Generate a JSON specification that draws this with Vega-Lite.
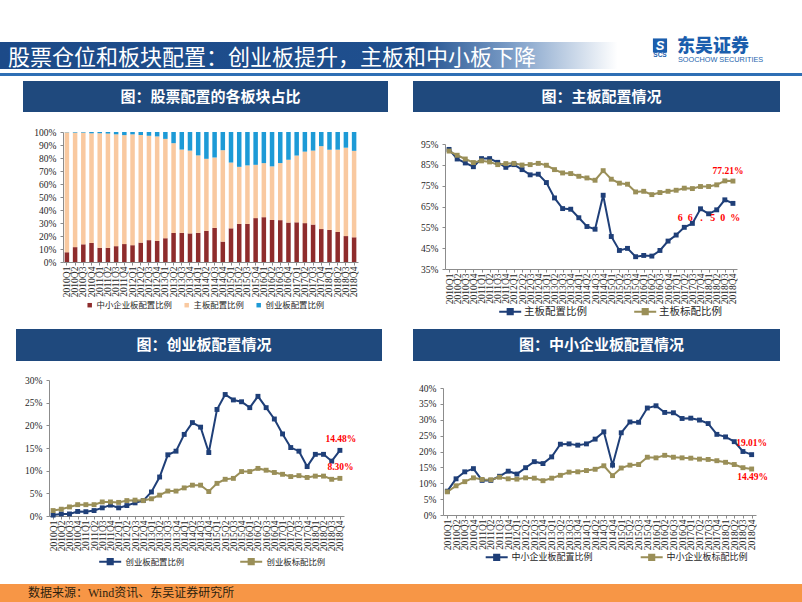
{
"$schema":"https://vega.github.io/schema/vega-lite/v6.json",
"padding":0,
"background":"#ffffff",
"spacing":0,
"resolve":{"scale":{"color":"independent","x":"independent","y":"independent"},"legend":{"color":"independent"}},
"config":{
 "view":{"stroke":null},
 "font":"Liberation Serif",
 "axis":{"grid":false,"title":null,"labelFont":"Liberation Serif","labelFontSize":9.5,"labelColor":"#262626","domainColor":"#8C8C8C","tickColor":"#8C8C8C","tickSize":3,"labelPadding":4,"labelOverlap":false},
 "axisX":{"labelAngle":-90,"labelOverlap":false,"labelPadding":1,"tickSize":3},
 "axisY":{"labelOverlap":false},
 "legend":{"title":null,"orient":"none","direction":"horizontal","labelFont":"Noto Sans CJK SC","labelColor":"#262626","padding":0}
},
"datasets":{
 "d":[
  {"q":"2010Q1","main":92.4,"mainStd":91.6,"gem":0.2,"gemStd":1.2,"sme":7.5,"smeStd":7.3},
  {"q":"2010Q2","main":87.8,"mainStd":89.6,"gem":0.45,"gemStd":1.5,"sme":11.4,"smeStd":9.2},
  {"q":"2010Q3","main":85.9,"mainStd":87.8,"gem":0.45,"gemStd":2.0,"sme":13.6,"smeStd":10.5},
  {"q":"2010Q4","main":84.1,"mainStd":86.1,"gem":1.0,"gemStd":2.5,"sme":14.6,"smeStd":11.7},
  {"q":"2011Q1","main":88.0,"mainStd":86.9,"gem":0.95,"gemStd":2.5,"sme":10.9,"smeStd":11.2},
  {"q":"2011Q2","main":88.0,"mainStd":86.4,"gem":1.2,"gemStd":2.5,"sme":10.9,"smeStd":11.1},
  {"q":"2011Q3","main":86.2,"mainStd":85.1,"gem":1.8,"gemStd":3.1,"sme":12.2,"smeStd":11.9},
  {"q":"2011Q4","main":83.8,"mainStd":85.6,"gem":2.4,"gemStd":3.1,"sme":13.8,"smeStd":11.4},
  {"q":"2012Q1","main":85.1,"mainStd":85.7,"gem":1.8,"gemStd":3.0,"sme":12.9,"smeStd":11.3},
  {"q":"2012Q2","main":82.7,"mainStd":84.9,"gem":2.3,"gemStd":3.4,"sme":14.9,"smeStd":11.7},
  {"q":"2012Q3","main":80.2,"mainStd":85.1,"gem":2.9,"gemStd":3.5,"sme":16.8,"smeStd":11.6},
  {"q":"2012Q4","main":80.5,"mainStd":85.7,"gem":3.4,"gemStd":3.4,"sme":16.2,"smeStd":10.8},
  {"q":"2013Q1","main":76.5,"mainStd":84.8,"gem":5.3,"gemStd":3.8,"sme":18.3,"smeStd":11.6},
  {"q":"2013Q2","main":69.1,"mainStd":82.7,"gem":8.6,"gemStd":4.6,"sme":22.3,"smeStd":12.5},
  {"q":"2013Q3","main":64.0,"mainStd":81.1,"gem":13.5,"gemStd":5.5,"sme":22.4,"smeStd":13.5},
  {"q":"2013Q4","main":63.7,"mainStd":80.8,"gem":14.3,"gemStd":5.5,"sme":22.0,"smeStd":13.6},
  {"q":"2014Q1","main":59.6,"mainStd":79.5,"gem":18.0,"gemStd":6.2,"sme":22.4,"smeStd":14.0},
  {"q":"2014Q2","main":55.4,"mainStd":78.7,"gem":20.6,"gemStd":6.8,"sme":23.9,"smeStd":14.4},
  {"q":"2014Q3","main":54.1,"mainStd":77.6,"gem":19.6,"gemStd":6.8,"sme":26.2,"smeStd":15.5},
  {"q":"2014Q4","main":70.4,"mainStd":82.2,"gem":14.0,"gemStd":5.4,"sme":15.7,"smeStd":12.4},
  {"q":"2015Q1","main":50.6,"mainStd":78.1,"gem":23.5,"gemStd":7.2,"sme":25.9,"smeStd":14.8},
  {"q":"2015Q2","main":43.9,"mainStd":76.2,"gem":26.8,"gemStd":8.1,"sme":29.3,"smeStd":15.7},
  {"q":"2015Q3","main":44.9,"mainStd":75.7,"gem":25.6,"gemStd":8.3,"sme":29.2,"smeStd":15.9},
  {"q":"2015Q4","main":40.9,"mainStd":72.0,"gem":25.2,"gemStd":9.8,"sme":33.7,"smeStd":18.2},
  {"q":"2016Q1","main":41.5,"mainStd":72.3,"gem":23.9,"gemStd":9.8,"sme":34.4,"smeStd":18.0},
  {"q":"2016Q2","main":41.2,"mainStd":70.7,"gem":26.4,"gemStd":10.5,"sme":32.3,"smeStd":18.8},
  {"q":"2016Q3","main":43.9,"mainStd":71.7,"gem":23.9,"gemStd":10.1,"sme":32.2,"smeStd":18.2},
  {"q":"2016Q4","main":48.4,"mainStd":72.3,"gem":21.4,"gemStd":9.6,"sme":30.4,"smeStd":18.0},
  {"q":"2017Q1","main":51.3,"mainStd":72.8,"gem":18.1,"gemStd":9.2,"sme":30.5,"smeStd":17.9},
  {"q":"2017Q2","main":55.0,"mainStd":73.8,"gem":15.1,"gemStd":8.7,"sme":29.9,"smeStd":17.6},
  {"q":"2017Q3","main":56.9,"mainStd":73.6,"gem":14.3,"gemStd":8.9,"sme":28.8,"smeStd":17.5},
  {"q":"2017Q4","main":63.9,"mainStd":74.6,"gem":10.9,"gemStd":8.5,"sme":25.4,"smeStd":17.1},
  {"q":"2018Q1","main":61.5,"mainStd":74.6,"gem":13.6,"gemStd":8.8,"sme":24.6,"smeStd":16.6},
  {"q":"2018Q2","main":63.4,"mainStd":75.4,"gem":13.6,"gemStd":8.8,"sme":23.1,"smeStd":15.9},
  {"q":"2018Q3","main":68.2,"mainStd":77.3,"gem":12.1,"gemStd":8.1,"sme":20.0,"smeStd":14.9},
  {"q":"2018Q4","main":66.5,"mainStd":77.21,"gem":14.48,"gemStd":8.30,"sme":19.01,"smeStd":14.49}
 ],
 "ann":[
  {"id":"c2a","q":"2018Q4","v":77.21,"t":"77.21%"},
  {"id":"c2b","q":"2018Q4","v":66.5,"t":"6\u00a0\u00a06\u00a0\u00a0\u00a0.\u00a0\u00a0\u00a05\u00a0\u00a00\u00a0\u00a0%"},
  {"id":"c3a","q":"2018Q4","v":14.48,"t":"14.48%"},
  {"id":"c3b","q":"2018Q4","v":8.3,"t":"8.30%"},
  {"id":"c4a","q":"2018Q4","v":19.01,"t":"19.01%"},
  {"id":"c4b","q":"2018Q4","v":14.49,"t":"14.49%"}
 ]
},
"vconcat":[
 {"width":802,"height":37,"data":{"values":[{}]},"mark":{"type":"rect","opacity":0},"encoding":{}},
 {"width":802,"height":27,
  "data":{"values":[{"title":"股票仓位和板块配置：创业板提升，主板和中小板下降","brand":"东吴证券","en":"SOOCHOW SECURITIES","abbr":"SCS","s":"S"}]},
  "layer":[
   {"mark":{"type":"rect","color":{"gradient":"linear","x1":0,"x2":1,"y1":0,"y2":0,"stops":[{"offset":0,"color":"#1C4A88"},{"offset":0.52,"color":"#1F4F8E"},{"offset":0.64,"color":"#7E9FC8"},{"offset":0.77,"color":"#FFFFFF"},{"offset":1,"color":"#FFFFFF"}]}},"encoding":{}},
   {"mark":{"type":"text","align":"left","baseline":"middle","dx":-393,"dy":2,"font":"Noto Sans CJK SC","fontSize":22,"color":"#FFFFFF"},"encoding":{"text":{"field":"title"}}},
   {"mark":{"type":"point","shape":"square","filled":true,"size":200,"opacity":1,"color":"#1B5EAD","xOffset":259,"yOffset":-10},"encoding":{}},
   {"mark":{"type":"text","align":"center","baseline":"middle","dx":259,"dy":-10,"font":"Liberation Sans","fontStyle":"italic","fontWeight":"bold","fontSize":13,"color":"#FFFFFF"},"encoding":{"text":{"field":"s"}}},
   {"mark":{"type":"text","align":"center","baseline":"middle","dx":259,"dy":-0.5,"font":"Liberation Sans","fontWeight":"bold","fontSize":6.5,"color":"#1B5EAD"},"encoding":{"text":{"field":"abbr"}}},
   {"mark":{"type":"text","align":"left","baseline":"middle","dx":276,"dy":-9,"font":"Noto Sans CJK SC","fontWeight":900,"fontSize":18,"color":"#1B5EAD"},"encoding":{"text":{"field":"brand"}}},
   {"mark":{"type":"text","align":"left","baseline":"middle","dx":277,"dy":4.5,"font":"Liberation Sans","fontSize":7.3,"color":"#2565AE"},"encoding":{"text":{"field":"en"}}}
  ]
 },
 {"width":802,"height":4,"data":{"values":[{}]},"mark":{"type":"rect","opacity":0},"encoding":{}},
 {"width":802,"height":3,"data":{"values":[{}]},"mark":{"type":"rect","color":"#2F6FB5"},"encoding":{}},
 {"width":802,"height":5,"data":{"values":[{}]},"mark":{"type":"rect","opacity":0},"encoding":{}},
 {"spacing":0,"bounds":"flush","hconcat":[
  {"width":23,"height":31,"data":{"values":[{}]},"mark":{"type":"rect","opacity":0},"encoding":{}},
  {"width":365,"height":31,"data":{"values":[{"t":"图：股票配置的各板块占比"}]},"layer":[
   {"mark":{"type":"rect","color":"#1F497D"},"encoding":{}},
   {"mark":{"type":"text","dx":5,"font":"Noto Sans CJK SC","fontWeight":"bold","fontSize":15,"color":"#FFFFFF"},"encoding":{"text":{"field":"t"}}}]},
  {"width":25,"height":31,"data":{"values":[{}]},"mark":{"type":"rect","opacity":0},"encoding":{}},
  {"width":367,"height":31,"data":{"values":[{"t":"图：主板配置情况"}]},"layer":[
   {"mark":{"type":"rect","color":"#1F497D"},"encoding":{}},
   {"mark":{"type":"text","dx":5,"font":"Noto Sans CJK SC","fontWeight":"bold","fontSize":15,"color":"#FFFFFF"},"encoding":{"text":{"field":"t"}}}]}
 ]},
 {"spacing":0,"bounds":"flush",
  "resolve":{"scale":{"color":"independent","x":"independent","y":"independent"},"legend":{"color":"independent"}},
  "hconcat":[
  {"width":63,"height":217,"data":{"values":[{}]},"mark":{"type":"rect","opacity":0},"encoding":{}},
  {"width":295,"height":150,
   "data":{"name":"d"},
   "transform":[{"fold":["sme","main","gem"],"as":["k","v"]}],
   "mark":{"type":"bar"},
   "encoding":{
    "x":{"field":"q","type":"ordinal","scale":{"paddingInner":0.45,"paddingOuter":0.2},"axis":{"labelFontSize":9.5}},
    "y":{"field":"v","type":"quantitative","stack":"normalize","scale":{"domain":[0,1],"range":[150,20]},"axis":{"format":".0%","values":[0,0.1,0.2,0.3,0.4,0.5,0.6,0.7,0.8,0.9,1],"labelOverlap":false}},
    "color":{"field":"k","type":"nominal","scale":{"domain":["sme","main","gem"],"range":["#8E2C2C","#F9C9A0","#1D9AD6"]},
     "legend":{"legendX":22.5,"legendY":188.8,"symbolType":"square","symbolSize":20,"symbolStrokeWidth":0,"labelFontSize":8.4,"labelOffset":2.7,"columnPadding":10,
      "labelExpr":"datum.label == 'sme' ? '中小企业板配置比例' : datum.label == 'main' ? '主板配置比例' : '创业板配置比例'"}},
    "order":{"field":"k","sort":"descending"}
   }
  },
  {"width":87,"height":217,"data":{"values":[{}]},"mark":{"type":"rect","opacity":0},"encoding":{}},
  {"width":292,"height":157,
   "layer":[
    {"data":{"name":"d"},"transform":[{"fold":["main","mainStd"],"as":["k","v"]}],
     "mark":{"type":"line","strokeWidth":2},
     "encoding":{
      "x":{"field":"q","type":"ordinal","scale":{"type":"point","padding":0.5}},
      "y":{"field":"v","type":"quantitative","scale":{"domain":[35,95],"range":[157,32],"nice":false,"zero":false},"axis":{"values":[35,45,55,65,75,85,95],"labelExpr":"datum.value + '%'","labelOverlap":false,"tickCount":7}},
      "color":{"field":"k","type":"nominal","scale":{"domain":["main","mainStd"],"range":["#1F3F78","#9A8F58"]},
       "legend":{"legendX":56.7,"legendY":190.7,"symbolType":"M-1.5,0H1.5M-0.35,-0.35H0.35V0.35H-0.35Z","symbolSize":215,"symbolStrokeWidth":2,"labelFontSize":10.5,"labelOffset":5.3,"columnPadding":42,
        "labelExpr":"datum.label == 'main' ? '主板配置比例' : '主板标配比例'"}}
     }},
    {"data":{"name":"d"},"transform":[{"fold":["main","mainStd"],"as":["k","v"]}],
     "mark":{"type":"point","shape":"square","filled":true,"size":24,"opacity":1},
     "encoding":{
      "x":{"field":"q","type":"ordinal"},
      "y":{"field":"v","type":"quantitative","axis":{"values":[35,45,55,65,75,85,95],"labelExpr":"datum.value + '%'","labelOverlap":false,"tickCount":7}},
      "color":{"field":"k","type":"nominal",
       "legend":{"legendX":56.7,"legendY":190.7,"symbolType":"M-1.5,0H1.5M-0.35,-0.35H0.35V0.35H-0.35Z","symbolSize":215,"symbolStrokeWidth":2,"labelFontSize":10.5,"labelOffset":5.3,"columnPadding":42,
        "labelExpr":"datum.label == 'main' ? '主板配置比例' : '主板标配比例'"}}
     }},
    {"data":{"name":"ann"},"transform":[{"filter":"datum.id == 'c2a'"}],
     "mark":{"type":"text","dx":-5,"dy":-10,"font":"Liberation Serif","fontWeight":"bold","fontSize":9.5,"color":"#FF0000"},
     "encoding":{"x":{"field":"q","type":"ordinal"},"y":{"field":"v","type":"quantitative","axis":{"values":[35,45,55,65,75,85,95],"labelExpr":"datum.value + '%'","labelOverlap":false,"tickCount":7}},"text":{"field":"t"}}},
    {"data":{"name":"ann"},"transform":[{"filter":"datum.id == 'c2b'"}],
     "mark":{"type":"text","dx":-24,"dy":14.6,"font":"Liberation Serif","fontWeight":"bold","fontSize":10,"color":"#FF0000"},
     "encoding":{"x":{"field":"q","type":"ordinal"},"y":{"field":"v","type":"quantitative","axis":{"values":[35,45,55,65,75,85,95],"labelExpr":"datum.value + '%'","labelOverlap":false,"tickCount":7}},"text":{"field":"t"}}}
   ]
  }
 ]},
 {"spacing":0,"bounds":"flush","hconcat":[
  {"width":16,"height":32,"data":{"values":[{}]},"mark":{"type":"rect","opacity":0},"encoding":{}},
  {"width":366,"height":32,"data":{"values":[{"t":"图：创业板配置情况"}]},"layer":[
   {"mark":{"type":"rect","color":"#1F497D"},"encoding":{}},
   {"mark":{"type":"text","dx":5,"font":"Noto Sans CJK SC","fontWeight":"bold","fontSize":15,"color":"#FFFFFF"},"encoding":{"text":{"field":"t"}}}]},
  {"width":31,"height":32,"data":{"values":[{}]},"mark":{"type":"rect","opacity":0},"encoding":{}},
  {"width":367,"height":32,"data":{"values":[{"t":"图：中小企业板配置情况"}]},"layer":[
   {"mark":{"type":"rect","color":"#1F497D"},"encoding":{}},
   {"mark":{"type":"text","dx":5,"font":"Noto Sans CJK SC","fontWeight":"bold","fontSize":15,"color":"#FFFFFF"},"encoding":{"text":{"field":"t"}}}]}
 ]},
 {"spacing":0,"bounds":"flush",
  "resolve":{"scale":{"color":"independent","x":"independent","y":"independent"},"legend":{"color":"independent"}},
  "hconcat":[
  {"width":49,"height":223,"data":{"values":[{}]},"mark":{"type":"rect","opacity":0},"encoding":{}},
  {"width":295,"height":155,
   "layer":[
    {"data":{"name":"d"},"transform":[{"fold":["gem","gemStd"],"as":["k","v"]}],
     "mark":{"type":"line","strokeWidth":2},
     "encoding":{
      "x":{"field":"q","type":"ordinal","scale":{"type":"point","padding":0.5}},
      "y":{"field":"v","type":"quantitative","scale":{"domain":[0,30],"range":[155,19],"nice":false},"axis":{"values":[0,5,10,15,20,25,30],"labelExpr":"datum.value + '%'","labelOverlap":false,"tickCount":7}},
      "color":{"field":"k","type":"nominal","scale":{"domain":["gem","gemStd"],"range":["#1F3F78","#9A8F58"]},
       "legend":{"legendX":52.7,"legendY":191.7,"symbolType":"M-1.5,0H1.5M-0.35,-0.35H0.35V0.35H-0.35Z","symbolSize":215,"symbolStrokeWidth":2,"labelFontSize":8.4,"labelOffset":6.9,"columnPadding":51,
        "labelExpr":"datum.label == 'gem' ? '创业板配置比例' : '创业板标配比例'"}}
     }},
    {"data":{"name":"d"},"transform":[{"fold":["gem","gemStd"],"as":["k","v"]}],
     "mark":{"type":"point","shape":"square","filled":true,"size":24,"opacity":1},
     "encoding":{
      "x":{"field":"q","type":"ordinal"},
      "y":{"field":"v","type":"quantitative","axis":{"values":[0,5,10,15,20,25,30],"labelExpr":"datum.value + '%'","labelOverlap":false,"tickCount":7}},
      "color":{"field":"k","type":"nominal",
       "legend":{"legendX":52.7,"legendY":191.7,"symbolType":"M-1.5,0H1.5M-0.35,-0.35H0.35V0.35H-0.35Z","symbolSize":215,"symbolStrokeWidth":2,"labelFontSize":8.4,"labelOffset":6.9,"columnPadding":51,
        "labelExpr":"datum.label == 'gem' ? '创业板配置比例' : '创业板标配比例'"}}
     }},
    {"data":{"name":"ann"},"transform":[{"filter":"datum.id == 'c3a'"}],
     "mark":{"type":"text","dx":1,"dy":-11.4,"font":"Liberation Serif","fontWeight":"bold","fontSize":9.5,"color":"#FF0000"},
     "encoding":{"x":{"field":"q","type":"ordinal"},"y":{"field":"v","type":"quantitative","axis":{"values":[0,5,10,15,20,25,30],"labelExpr":"datum.value + '%'","labelOverlap":false,"tickCount":7}},"text":{"field":"t"}}},
    {"data":{"name":"ann"},"transform":[{"filter":"datum.id == 'c3b'"}],
     "mark":{"type":"text","dx":0.6,"dy":-11.4,"font":"Liberation Serif","fontWeight":"bold","fontSize":9.5,"color":"#FF0000"},
     "encoding":{"x":{"field":"q","type":"ordinal"},"y":{"field":"v","type":"quantitative","axis":{"values":[0,5,10,15,20,25,30],"labelExpr":"datum.value + '%'","labelOverlap":false,"tickCount":7}},"text":{"field":"t"}}}
   ]
  },
  {"width":99,"height":223,"data":{"values":[{}]},"mark":{"type":"rect","opacity":0},"encoding":{}},
  {"width":313,"height":154,
   "layer":[
    {"data":{"name":"d"},"transform":[{"fold":["sme","smeStd"],"as":["k","v"]}],
     "mark":{"type":"line","strokeWidth":2},
     "encoding":{
      "x":{"field":"q","type":"ordinal","scale":{"type":"point","padding":0.5}},
      "y":{"field":"v","type":"quantitative","scale":{"domain":[0,40],"range":[154,27],"nice":false},"axis":{"values":[0,5,10,15,20,25,30,35,40],"labelExpr":"datum.value + '%'","labelOverlap":false,"tickCount":9}},
      "color":{"field":"k","type":"nominal","scale":{"domain":["sme","smeStd"],"range":["#1F3F78","#9A8F58"]},
       "legend":{"legendX":45.2,"legendY":187.4,"symbolType":"M-1.5,0H1.5M-0.35,-0.35H0.35V0.35H-0.35Z","symbolSize":215,"symbolStrokeWidth":2,"labelFontSize":9,"labelOffset":6.4,"columnPadding":43,
        "labelExpr":"datum.label == 'sme' ? '中小企业板配置比例' : '中小企业板标配比例'"}}
     }},
    {"data":{"name":"d"},"transform":[{"fold":["sme","smeStd"],"as":["k","v"]}],
     "mark":{"type":"point","shape":"square","filled":true,"size":24,"opacity":1},
     "encoding":{
      "x":{"field":"q","type":"ordinal"},
      "y":{"field":"v","type":"quantitative","axis":{"values":[0,5,10,15,20,25,30,35,40],"labelExpr":"datum.value + '%'","labelOverlap":false,"tickCount":9}},
      "color":{"field":"k","type":"nominal",
       "legend":{"legendX":45.2,"legendY":187.4,"symbolType":"M-1.5,0H1.5M-0.35,-0.35H0.35V0.35H-0.35Z","symbolSize":215,"symbolStrokeWidth":2,"labelFontSize":9,"labelOffset":6.4,"columnPadding":43,
        "labelExpr":"datum.label == 'sme' ? '中小企业板配置比例' : '中小企业板标配比例'"}}
     }},
    {"data":{"name":"ann"},"transform":[{"filter":"datum.id == 'c4a'"}],
     "mark":{"type":"text","dx":0,"dy":-11.6,"font":"Liberation Serif","fontWeight":"bold","fontSize":9.5,"color":"#FF0000"},
     "encoding":{"x":{"field":"q","type":"ordinal"},"y":{"field":"v","type":"quantitative","axis":{"values":[0,5,10,15,20,25,30,35,40],"labelExpr":"datum.value + '%'","labelOverlap":false,"tickCount":9}},"text":{"field":"t"}}},
    {"data":{"name":"ann"},"transform":[{"filter":"datum.id == 'c4b'"}],
     "mark":{"type":"text","dx":1,"dy":8.3,"font":"Liberation Serif","fontWeight":"bold","fontSize":9.5,"color":"#FF0000"},
     "encoding":{"x":{"field":"q","type":"ordinal"},"y":{"field":"v","type":"quantitative","axis":{"values":[0,5,10,15,20,25,30,35,40],"labelExpr":"datum.value + '%'","labelOverlap":false,"tickCount":9}},"text":{"field":"t"}}}
   ]
  }
 ]},
 {"width":802,"height":18,"data":{"values":[{"t":"数据来源：Wind资讯、东吴证券研究所"}]},"layer":[
  {"mark":{"type":"rect","color":"#F79646"},"encoding":{}},
  {"mark":{"type":"text","align":"left","baseline":"middle","dx":-373,"font":"Liberation Serif, Noto Sans CJK SC","fontSize":12,"color":"#2E1F0E"},"encoding":{"text":{"field":"t"}}}
 ]}
]
}
